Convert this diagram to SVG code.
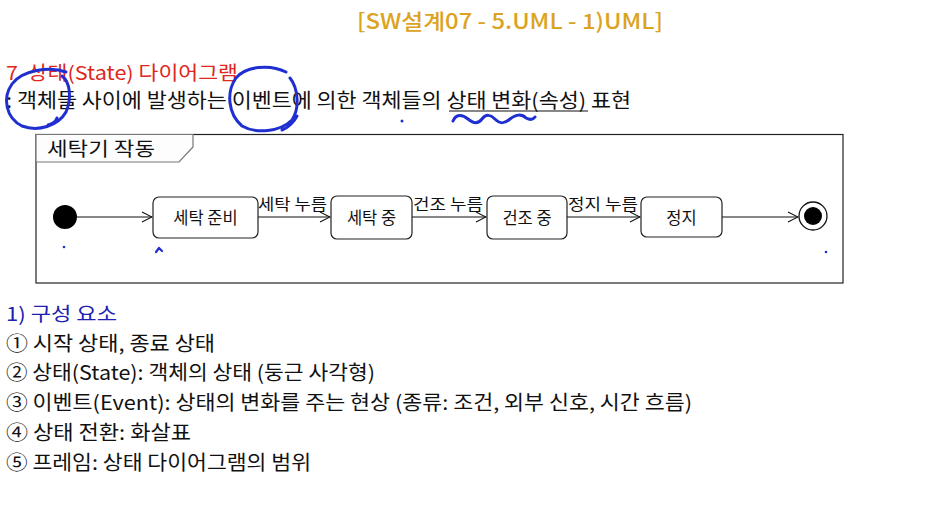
<svg xmlns="http://www.w3.org/2000/svg" width="932" height="514" viewBox="0 0 932 514">
<defs>
<style>
text{font-family:"Noto Sans CJK KR","Noto Sans",sans-serif;fill:#111;white-space:pre}
.t{font-size:20px}
.title{font-size:21px;fill:#DBA31E;font-weight:500}
.red{font-size:19px;fill:#E0261E}
.blue{font-size:19px;fill:#2020B0}
.node rect{fill:#fff;stroke:#222;stroke-width:1.2}
.lbl{font-size:16.5px;text-anchor:middle}
.ev{font-size:15.5px}
.conn line{stroke:#111;stroke-width:1.1}
.ink{fill:none;stroke:#1F2FD0;stroke-width:3;stroke-linecap:round;stroke-linejoin:round}
</style>
<marker id="arr" markerWidth="12" markerHeight="12" refX="11" refY="6" orient="auto" markerUnits="userSpaceOnUse">
<path d="M1,1 L11,6 L1,11" fill="none" stroke="#111" stroke-width="1.1"/>
</marker>
</defs>
<rect width="932" height="514" fill="#fff"/>

<text class="title" x="357" y="29" textLength="306" lengthAdjust="spacingAndGlyphs">[SW설계07 - 5.UML - 1)UML]</text>
<text class="red" x="6" y="80" textLength="232" lengthAdjust="spacingAndGlyphs">7  상태(State) 다이어그램</text>
<text class="t" x="6" y="108" textLength="625" lengthAdjust="spacingAndGlyphs">: 객체들 사이에 발생하는 이벤트에 의한 객체들의 상태 변화(속성) 표현</text>
<line x1="449" y1="111" x2="588" y2="111" stroke="#111" stroke-width="1.2"/>

<g id="frame">
<rect x="36" y="134.5" width="807" height="148.5" fill="none" stroke="#222" stroke-width="1.2"/>
<path d="M36,134.5 H193 V147 L179,162 H36 Z" fill="#fdfdfd" stroke="#777" stroke-width="1.2"/>
<text x="47" y="156" style="font-size:19px" textLength="108" lengthAdjust="spacingAndGlyphs">세탁기 작동</text>
</g>

<g id="conn" class="conn">
<line x1="77" y1="217" x2="152" y2="217" marker-end="url(#arr)"/>
<line x1="258" y1="217" x2="330" y2="217" marker-end="url(#arr)"/>
<line x1="412" y1="217" x2="486" y2="217" marker-end="url(#arr)"/>
<line x1="567" y1="217" x2="640" y2="217" marker-end="url(#arr)"/>
<line x1="722" y1="217" x2="798" y2="217" marker-end="url(#arr)"/>
<text class="ev" x="258" y="210" textLength="69" lengthAdjust="spacingAndGlyphs">세탁 누름</text>
<text class="ev" x="413" y="210" textLength="70" lengthAdjust="spacingAndGlyphs">건조 누름</text>
<text class="ev" x="568" y="210" textLength="70" lengthAdjust="spacingAndGlyphs">정지 누름</text>
</g>

<g id="start"><circle cx="65" cy="217" r="12" fill="#000"/></g>
<g id="s1" class="node"><rect x="153" y="197" width="105" height="41" rx="6"/><text class="lbl" x="205.5" y="223.5">세탁 준비</text></g>
<g id="s2" class="node"><rect x="331" y="196" width="81" height="43" rx="6"/><text class="lbl" x="371.5" y="223.5">세탁 중</text></g>
<g id="s3" class="node"><rect x="487" y="196" width="80" height="43" rx="6"/><text class="lbl" x="527" y="223.5">건조 중</text></g>
<g id="s4" class="node"><rect x="641" y="197" width="81" height="40" rx="6"/><text class="lbl" x="681.5" y="223.5">정지</text></g>
<g id="end"><circle cx="813" cy="216" r="14" fill="#fff" stroke="#111" stroke-width="1.3"/><circle cx="813" cy="216" r="9" fill="#000"/></g>

<text class="blue" x="6" y="321" textLength="111" lengthAdjust="spacingAndGlyphs">1) 구성 요소</text>
<text class="t" x="6" y="351" textLength="209" lengthAdjust="spacingAndGlyphs">① 시작 상태, 종료 상태</text>
<text class="t" x="6" y="380" textLength="369" lengthAdjust="spacingAndGlyphs">② 상태(State): 객체의 상태 (둥근 사각형)</text>
<text class="t" x="6" y="410" textLength="686" lengthAdjust="spacingAndGlyphs">③ 이벤트(Event): 상태의 변화를 주는 현상 (종류: 조건, 외부 신호, 시간 흐름)</text>
<text class="t" x="6" y="440" textLength="185" lengthAdjust="spacingAndGlyphs">④ 상태 전환: 화살표</text>
<text class="t" x="6" y="470" textLength="305" lengthAdjust="spacingAndGlyphs">⑤ 프레임: 상태 다이어그램의 범위</text>

<g id="ink">
<path class="ink" d="M66,72 C50,66 22,70 12,84 C2,98 6,118 22,126 C38,132 58,126 66,112 C72,98 70,82 62,76 M48,125 C52,124 56,121 57,118"/>
<path class="ink" d="M286,72 C270,64 246,66 236,78 C226,92 228,114 242,126 C256,134 280,132 292,120 C300,108 298,88 290,78 M282,130 C288,128 294,122 297,116"/>
<path class="ink" d="M453,121 C456,114 462,114 468,119 C474,124 478,124 482,119 C486,114 490,114 496,120 C500,124 504,124 510,119 C516,114 522,114 526,118 C530,120 533,120 535,117"/>
<circle cx="402" cy="121" r="1.5" fill="#1F2FD0"/>
<circle cx="64" cy="247" r="1.3" fill="#1F2FD0"/>
<path class="ink" d="M156,252 L159,248 L162,251" style="stroke-width:2.2"/>
<circle cx="826" cy="252" r="1.3" fill="#1F2FD0"/>
</g>
</svg>
